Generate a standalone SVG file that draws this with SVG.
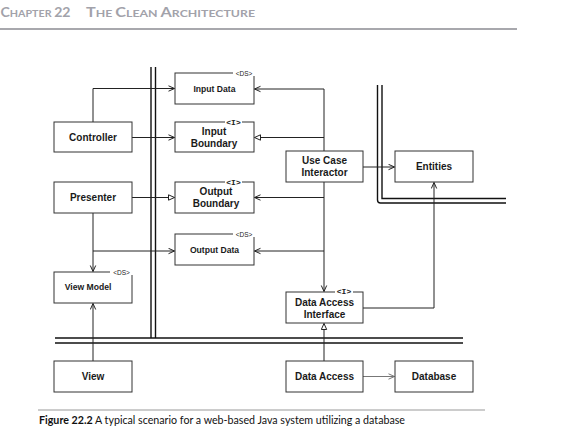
<svg xmlns="http://www.w3.org/2000/svg" width="562" height="426" viewBox="0 0 562 426">
<style>
.box{fill:#fff;stroke:#333;stroke-width:1}
.lbl{font-family:"Liberation Sans",Arial,sans-serif;font-weight:bold;font-size:10px;fill:#1a1a1a;text-anchor:middle}
.sm{font-size:8.6px}
.st{font-family:"Liberation Sans",Arial,sans-serif;font-size:6.5px;fill:#222;text-anchor:middle}
.iface{font-family:"Liberation Mono","Courier New",monospace;font-size:8px;font-weight:bold;fill:#222;text-anchor:middle}
.con{fill:none;stroke:#222;stroke-width:1}
.wall{fill:none;stroke:#111;stroke-width:1.4}
.hdr{font-family:Lato,"Open Sans",sans-serif;font-weight:bold;fill:#a2a2aa}
</style>
<defs>
<marker id="open" markerUnits="userSpaceOnUse" markerWidth="10" markerHeight="10" refX="6.5" refY="3.5" orient="auto">
<path d="M0.5,0.8 L6.5,3.5 L0.5,6.2" fill="none" stroke="#222" stroke-width="1"/>
</marker>
<marker id="tri" markerUnits="userSpaceOnUse" markerWidth="10" markerHeight="10" refX="6.5" refY="3.5" orient="auto">
<path d="M0.5,0.8 L6.5,3.5 L0.5,6.2 Z" fill="#fff" stroke="#222" stroke-width="1"/>
</marker>
<marker id="openg" markerUnits="userSpaceOnUse" markerWidth="10" markerHeight="10" refX="6.5" refY="3.5" orient="auto">
<path d="M0.5,0.8 L6.5,3.5 L0.5,6.2" fill="none" stroke="#777" stroke-width="1"/>
</marker>
</defs>
<rect width="562" height="426" fill="#fff"/>

<g id="header">
<text class="hdr" x="0.5" y="17" textLength="70" lengthAdjust="spacingAndGlyphs"><tspan font-size="12.5">C</tspan><tspan font-size="9.5">HAPTER </tspan><tspan font-size="12.5">22</tspan></text>
<text class="hdr" x="86" y="17" textLength="169" lengthAdjust="spacingAndGlyphs"><tspan font-size="12.5">T</tspan><tspan font-size="9.5">HE </tspan><tspan font-size="12.5">C</tspan><tspan font-size="9.5">LEAN </tspan><tspan font-size="12.5">A</tspan><tspan font-size="9.5">RCHITECTURE</tspan></text>
<line x1="0" y1="29" x2="517" y2="29" stroke="#a8a8ad" stroke-width="2"/>
</g>

<g id="boundaries">
<line class="wall" x1="151" y1="67" x2="151" y2="338"/>
<line class="wall" x1="155.5" y1="67" x2="155.5" y2="338"/>
<line class="wall" x1="55" y1="338" x2="463" y2="338"/>
<line class="wall" x1="55" y1="343" x2="463" y2="343"/>
<path class="wall" d="M377.5,85 V200 Q377.5,203 380.5,203 H506"/>
<path class="wall" d="M382,85 V198.5 H506"/>
</g>

<g id="connectors">
<path class="con" d="M93,122 V88.5 H174.5" marker-end="url(#open)"/>
<path class="con" d="M132,137.5 H174.5" marker-end="url(#open)"/>
<path class="con" d="M132,197.5 H174.5" marker-end="url(#tri)"/>
<path class="con" d="M93,213 V271.5" marker-end="url(#open)"/>
<path class="con" d="M93,251 H174.5" marker-end="url(#open)"/>
<path class="con" d="M93,361 V303.5" marker-end="url(#open)"/>
<path class="con" d="M324,89 V291.5" marker-end="url(#open)"/>
<path class="con" d="M324,89 H254.5" marker-end="url(#open)"/>
<path class="con" d="M324,137.5 H254.5" marker-end="url(#tri)"/>
<path class="con" d="M324,197.5 H254.5" marker-end="url(#open)"/>
<path class="con" d="M324,251 H254.5" marker-end="url(#open)"/>
<path class="con" d="M363,167 H394.5" marker-end="url(#open)"/>
<path class="con" d="M363,308 H434 V182.5" marker-end="url(#open)"/>
<path class="con" d="M324,361 V323.5" marker-end="url(#tri)"/>
<path class="con" d="M363,376.5 H394.5" marker-end="url(#openg)" style="stroke:#777"/>
</g>

<g id="input-data">
<rect class="box" x="175" y="73" width="79" height="31"/>
<rect x="233" y="69" width="22" height="7" fill="#fff"/>
<text class="st" x="244" y="75.5">&lt;DS&gt;</text>
<text class="lbl sm" x="214.5" y="92">Input Data</text>
</g>

<g id="input-boundary">
<rect class="box" x="175" y="122" width="79" height="30"/>
<rect x="225" y="118" width="17" height="7" fill="#fff"/>
<text class="iface" x="233.5" y="124.5">&lt;I&gt;</text>
<text class="lbl" x="214" y="135">Input</text>
<text class="lbl" x="214" y="147">Boundary</text>
</g>

<g id="controller">
<rect class="box" x="54" y="122" width="78" height="30"/>
<text class="lbl" x="93" y="141">Controller</text>
</g>

<g id="presenter">
<rect class="box" x="54" y="182" width="78" height="31"/>
<text class="lbl" x="93" y="201">Presenter</text>
</g>

<g id="output-boundary">
<rect class="box" x="175" y="182" width="79" height="31"/>
<rect x="225" y="178" width="17" height="7" fill="#fff"/>
<text class="iface" x="233.5" y="184.5">&lt;I&gt;</text>
<text class="lbl" x="216" y="195">Output</text>
<text class="lbl" x="216" y="207">Boundary</text>
</g>

<g id="output-data">
<rect class="box" x="175" y="234" width="79" height="31"/>
<rect x="233" y="230" width="22" height="7" fill="#fff"/>
<text class="st" x="244" y="236.5">&lt;DS&gt;</text>
<text class="lbl sm" x="214.5" y="253">Output Data</text>
</g>

<g id="view-model">
<rect class="box" x="54" y="272" width="78" height="31"/>
<rect x="110" y="268" width="23" height="7" fill="#fff"/>
<text class="st" x="121.5" y="274.5">&lt;DS&gt;</text>
<text class="lbl sm" x="88" y="290">View Model</text>
</g>

<g id="view">
<rect class="box" x="54" y="361" width="78" height="31"/>
<text class="lbl" x="93" y="380">View</text>
</g>

<g id="use-case-interactor">
<rect class="box" x="286" y="151" width="77" height="31"/>
<text class="lbl" x="324.5" y="163.5">Use Case</text>
<text class="lbl" x="324.5" y="175.5">Interactor</text>
</g>

<g id="entities">
<rect class="box" x="395" y="151" width="78" height="31"/>
<text class="lbl" x="434" y="170">Entities</text>
</g>

<g id="data-access-interface">
<rect class="box" x="286" y="292" width="77" height="31"/>
<rect x="335" y="288" width="18" height="7" fill="#fff"/>
<text class="iface" x="344" y="294.3">&lt;I&gt;</text>
<text class="lbl" x="324.5" y="305.5">Data Access</text>
<text class="lbl" x="324.5" y="317.5">Interface</text>
</g>

<g id="data-access">
<rect class="box" x="286" y="361" width="77" height="31"/>
<text class="lbl" x="324.5" y="380">Data Access</text>
</g>

<g id="database">
<rect class="box" x="395" y="361" width="78" height="31"/>
<text class="lbl" x="434" y="380">Database</text>
</g>

<g id="caption">
<line x1="38" y1="410" x2="485" y2="410" stroke="#999" stroke-width="1"/>
<text x="39" y="424" font-family="Lato,'Open Sans',sans-serif" font-size="10.5" fill="#111" textLength="366" lengthAdjust="spacingAndGlyphs"><tspan font-weight="bold">Figure 22.2</tspan>  A typical scenario for a web-based Java system utilizing a database</text>
</g>
</svg>
